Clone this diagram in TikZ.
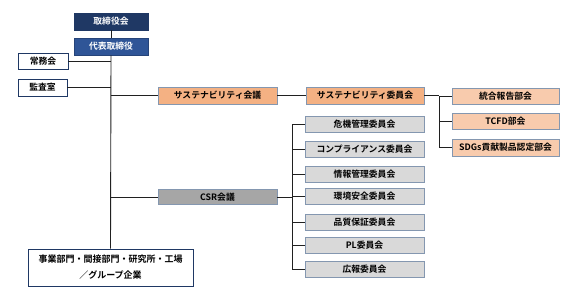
\documentclass[tikz,border=0pt]{standalone}
\usepackage{fontspec}
\setmainfont{Noto Sans CJK JP}[BoldFont={Noto Sans CJK JP Bold}]
\begin{document}
\begin{tikzpicture}[x=1pt,y=-1pt,
  box/.style={draw=bordc,line width=0.8pt,inner sep=0pt,font=\fontsize{8.8}{10}\selectfont\bfseries},
  navy/.style={box,fill=navyc,draw=navyc,text=white},
  blue/.style={box,fill=bluec,draw=bluec!80!black,text=white},
  white/.style={box,fill=white,draw=navyc,text=black},
  orange/.style={box,fill=orangec,text=black},
  lorange/.style={box,fill=lorangec,text=black},
  gray/.style={box,fill=grayc,text=black},
  dgray/.style={box,fill=dgrayc,text=black},
  conn/.style={draw=linec,line width=0.9pt}]
\definecolor{navyc}{HTML}{1F3864}
\definecolor{bluec}{HTML}{2F5597}
\definecolor{bordc}{HTML}{8497B0}
\definecolor{orangec}{HTML}{F4B183}
\definecolor{lorangec}{HTML}{F8CBAD}
\definecolor{grayc}{HTML}{D9D9D9}
\definecolor{dgrayc}{HTML}{A6A6A6}
\definecolor{linec}{HTML}{202020}
\useasboundingbox[fill=white] (0,0) rectangle (572,298);
\node[navy,minimum width=74pt,minimum height=17pt] (board) at (111,21.5) {取締役会};
\node[blue,minimum width=74pt,minimum height=17pt] (pres) at (111,46.5) {代表取締役};
\node[white,minimum width=50pt,minimum height=16pt] (jomu) at (43,61) {常務会};
\node[white,minimum width=49pt,minimum height=17pt] (kansa) at (42.5,87.5) {監査室};
\node[orange,minimum width=119pt,minimum height=17pt] (sust) at (217.5,95.5) {サステナビリティ会議};
\node[orange,minimum width=118pt,minimum height=17pt] (sustc) at (365,95.5) {サステナビリティ委員会};
\node[lorange,minimum width=107pt,minimum height=16pt] (togo) at (505.5,96) {統合報告部会};
\node[lorange,minimum width=107pt,minimum height=16pt] (tcfd) at (505.5,121) {TCFD部会};
\node[lorange,minimum width=107pt,minimum height=17pt] (sdgs) at (505.5,147.5) {SDGs貢献製品認定部会};
\node[dgray,minimum width=119pt,minimum height=15pt] (csr) at (217.5,197) {CSR会議};
\node[gray,minimum width=119pt,minimum height=16pt] (kiki) at (364.5,124) {危機管理委員会};
\node[gray,minimum width=119pt,minimum height=16pt] (comp) at (364.5,149.5) {コンプライアンス委員会};
\node[gray,minimum width=119pt,minimum height=16pt] (joho) at (364.5,174) {情報管理委員会};
\node[gray,minimum width=119pt,minimum height=16pt] (kankyo) at (364.5,196.5) {環境安全委員会};
\node[gray,minimum width=119pt,minimum height=16pt] (hinshitsu) at (364.5,222) {品質保証委員会};
\node[gray,minimum width=119pt,minimum height=16pt] (pl) at (364.5,245.5) {PL委員会};
\node[gray,minimum width=119pt,minimum height=16pt] (koho) at (364.5,269.5) {広報委員会};
\node[white,minimum width=165pt,minimum height=37pt,align=center,font=\fontsize{9}{16}\selectfont\bfseries] (jigyo) at (110.5,267.5) {事業部門・間接部門・研究所・工場\\／グループ企業};
\coordinate (bx) at (439,96);
\coordinate (gx) at (292,197);
\draw[conn] (board.south) -- (pres.north);
\draw[conn] (pres.south) -- (jigyo.north);
\draw[conn] (jomu.east) -- (jomu.east -| pres.south);
\draw[conn] (kansa.east) -- (kansa.east -| pres.south);
\draw[conn] (sust.west -| pres.south) -- (sust.west);
\draw[conn] (csr.west -| pres.south) -- (csr.west);
\draw[conn] (sust.east) -- (sustc.west);
\draw[conn] (sustc.east) -- (sustc.east -| bx);
\draw[conn] (togo.west -| bx) -- (sdgs.west -| bx);
\foreach \n in {togo,tcfd,sdgs} \draw[conn] (\n.west -| bx) -- (\n.west);
\draw[conn] (csr.east) -- (csr.east -| gx);
\draw[conn] (kiki.west -| gx) -- (koho.west -| gx);
\foreach \n in {kiki,comp,joho,kankyo,hinshitsu,pl,koho} \draw[conn] (\n.west -| gx) -- (\n.west);
\end{tikzpicture}
\end{document}
